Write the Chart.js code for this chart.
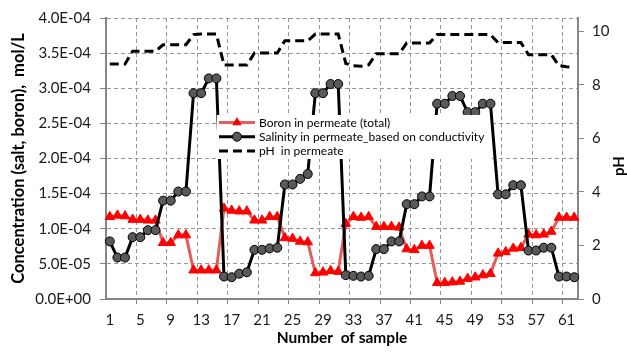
<!DOCTYPE html>
<html>
<head>
<meta charset="utf-8">
<script src="https://cdn.jsdelivr.net/npm/chart.js@4.4.1/dist/chart.umd.min.js"></script>
<style>
  html, body { margin: 0; padding: 0; background: #fff; }
  #wrap { width: 627px; height: 355px; position: relative; }
</style>
</head>
<body>
<div id="wrap"><canvas id="c"></canvas></div>
<script>
'use strict';

// ── data ──
const categories = [1, 2, 3, 4, 5, 6, 7, 8, 9, 10, 11, 12, 13, 14, 15, 16, 17, 18, 19, 20,
  21, 22, 23, 24, 25, 26, 27, 28, 29, 30, 31, 32, 33, 34, 35, 36, 37, 38, 39, 40,
  41, 42, 43, 44, 45, 46, 47, 48, 49, 50, 51, 52, 53, 54, 55, 56, 57, 58, 59, 60, 61, 62];

const xTickLabels = ['1', '5', '9', '13', '17', '21', '25', '29', '33', '37', '41', '45', '49', '53', '57', '61'];

// mol/L
const boron = [
  11.7e-5, 11.9e-5, 11.8e-5, 11.3e-5, 11.3e-5, 11.2e-5, 11.2e-5, 8.0e-5, 8.0e-5, 9.1e-5,
  9.1e-5, 4.1e-5, 4.1e-5, 4.1e-5, 4.1e-5, 12.9e-5, 12.6e-5, 12.5e-5, 12.5e-5, 11.2e-5,
  11.2e-5, 11.7e-5, 11.7e-5, 8.7e-5, 8.6e-5, 8.2e-5, 8.1e-5, 3.7e-5, 3.8e-5, 4.0e-5,
  3.9e-5, 10.7e-5, 11.7e-5, 11.6e-5, 11.7e-5, 10.3e-5, 10.3e-5, 10.3e-5, 10.2e-5, 7.1e-5,
  7.0e-5, 7.6e-5, 7.6e-5, 2.3e-5, 2.3e-5, 2.4e-5, 2.5e-5, 2.9e-5, 3.1e-5, 3.4e-5,
  3.6e-5, 6.5e-5, 6.7e-5, 7.2e-5, 7.3e-5, 9.2e-5, 9.1e-5, 9.2e-5, 9.6e-5, 11.6e-5,
  11.6e-5, 11.6e-5
];

const salinity = [
  8.2e-5, 5.9e-5, 5.9e-5, 8.8e-5, 8.8e-5, 9.8e-5, 9.8e-5, 14.0e-5, 14.0e-5, 15.3e-5,
  15.3e-5, 29.3e-5, 29.3e-5, 31.4e-5, 31.4e-5, 3.2e-5, 3.1e-5, 3.6e-5, 3.8e-5, 7.0e-5,
  7.0e-5, 7.2e-5, 7.3e-5, 16.3e-5, 16.3e-5, 17.1e-5, 17.8e-5, 29.3e-5, 29.3e-5, 30.6e-5,
  30.6e-5, 3.4e-5, 3.3e-5, 3.2e-5, 3.3e-5, 7.1e-5, 7.1e-5, 8.2e-5, 8.2e-5, 13.5e-5,
  13.5e-5, 14.6e-5, 14.6e-5, 27.8e-5, 27.8e-5, 28.9e-5, 28.9e-5, 26.6e-5, 26.6e-5, 27.8e-5,
  27.8e-5, 14.9e-5, 14.9e-5, 16.2e-5, 16.2e-5, 6.9e-5, 6.9e-5, 7.3e-5, 7.3e-5, 3.2e-5,
  3.2e-5, 3.1e-5
];

const ph = [
  8.78, 8.78, 8.78, 9.26, 9.26, 9.26, 9.26, 9.5, 9.5, 9.5,
  9.5, 9.88, 9.9, 9.9, 9.9, 8.74, 8.74, 8.74, 8.74, 9.19,
  9.19, 9.19, 9.19, 9.65, 9.65, 9.65, 9.65, 9.9, 9.9, 9.9,
  9.9, 8.8, 8.72, 8.7, 8.75, 9.16, 9.16, 9.16, 9.16, 9.57,
  9.57, 9.57, 9.57, 9.88, 9.88, 9.88, 9.88, 9.88, 9.88, 9.88,
  9.88, 9.58, 9.58, 9.58, 9.58, 9.13, 9.13, 9.13, 9.13, 8.72,
  8.68, 8.65
];

const seriesNames = [
  'Boron in permeate (total)',
  'Salinity in permeate_based on conductivity',
  'pH  in permeate'
];

// ── colours ──
const TXT = '#1a1a1a';
const AXIS = '#868686';
const GRID = '#969696';
const RED = '#ff0000';
const RED_LINE = '#e35d5d';
const DOT = '#595959';

const FONT = 'Lato, "Liberation Sans", sans-serif';
Chart.defaults.font.family = FONT;

// 4.0E-04 style
function sci(v) {
  if (v === 0) return '0.0E+00';
  const e = Math.floor(Math.log10(Math.abs(v)) + 1e-9);
  const m = v / Math.pow(10, e);
  return m.toFixed(1) + 'E' + (e < 0 ? '-' : '+') + String(Math.abs(e)).padStart(2, '0');
}

function xGridColor(c) {
  return (c.index !== undefined && c.index > 0 && c.index % 4 === 0) ? GRID : 'rgba(0,0,0,0)';
}
function xTickColor(c) {
  return (c.index !== undefined && c.index > 0 && c.index % 4 === 0) ? AXIS : 'rgba(0,0,0,0)';
}

// ── legend inside plot + pH title (Excel style) ──
const overlayPlugin = {
  id: 'overlay',
  afterDraw(chart) {
    const ctx = chart.ctx;
    const ds = chart.data.datasets;
    ctx.save();

    const bx = 217, by = 115, bw = 272, bh = 44;
    ctx.fillStyle = '#fff';
    ctx.fillRect(bx, by, bw, bh);

    const rows = [122.5, 136.7, 151];
    const lx0 = 219, lx1 = 255, mx = (lx0 + lx1) / 2;
    ctx.font = '12px ' + FONT;
    ctx.textBaseline = 'middle';
    ctx.textAlign = 'left';

    rows.forEach(function (ry, i) {
      const d = ds[i];
      ctx.beginPath();
      ctx.setLineDash(d.borderDash || []);
      ctx.strokeStyle = d.borderColor;
      ctx.lineWidth = d.borderWidth;
      ctx.moveTo(lx0, ry);
      ctx.lineTo(lx1, ry);
      ctx.stroke();
      ctx.setLineDash([]);

      if (d.pointStyle === 'triangle') {
        const r = d.pointRadius;
        ctx.beginPath();
        ctx.moveTo(mx, ry - r);
        ctx.lineTo(mx + r * 0.866, ry + r / 2);
        ctx.lineTo(mx - r * 0.866, ry + r / 2);
        ctx.closePath();
        ctx.fillStyle = d.pointBackgroundColor;
        ctx.fill();
      } else if (d.pointRadius > 0) {
        ctx.beginPath();
        ctx.arc(mx, ry, d.pointRadius, 0, Math.PI * 2);
        ctx.fillStyle = d.pointBackgroundColor;
        ctx.fill();
        ctx.lineWidth = d.pointBorderWidth;
        ctx.strokeStyle = d.pointBorderColor;
        ctx.stroke();
      }

      ctx.fillStyle = '#000';
      ctx.fillText(d.label, 259, ry + 0.5);
    });

    // secondary axis title, rotated like the left one
    ctx.translate(619, 166);
    ctx.rotate(-Math.PI / 2);
    ctx.textAlign = 'center';
    ctx.font = 'bold 15px ' + FONT;
    ctx.fillStyle = '#000';
    ctx.fillText('pH', 0, 0);
    ctx.restore();
  }
};

new Chart(document.getElementById('c'), {
  type: 'line',
  data: {
    labels: categories,
    datasets: [
      {
        label: seriesNames[0],
        data: boron,
        yAxisID: 'y',
        borderColor: RED_LINE,
        borderWidth: 3,
        pointStyle: 'triangle',
        pointRadius: 5.5,
        pointBackgroundColor: RED,
        pointBorderColor: RED,
        pointBorderWidth: 1,
        tension: 0,
        order: 3
      },
      {
        label: seriesNames[1],
        data: salinity,
        yAxisID: 'y',
        borderColor: '#000',
        borderWidth: 3,
        pointStyle: 'circle',
        pointRadius: 4.5,
        pointBackgroundColor: DOT,
        pointBorderColor: '#000',
        pointBorderWidth: 1,
        tension: 0,
        order: 2
      },
      {
        label: seriesNames[2],
        data: ph,
        yAxisID: 'y1',
        borderColor: '#000',
        borderWidth: 3,
        borderDash: [9, 5],
        pointRadius: 0,
        tension: 0,
        order: 1
      }
    ]
  },
  options: {
    responsive: true,
    maintainAspectRatio: false,
    animation: false,
    layout: { padding: { top: 16, right: 0, bottom: 0, left: 0 } },
    plugins: {
      legend: { display: false },
      tooltip: { enabled: false }
    },
    scales: {
      x: {
        type: 'category',
        offset: true,
        ticks: {
          autoSkip: false,
          maxRotation: 0,
          minRotation: 0,
          color: TXT,
          font: { size: 15 },
          padding: 7,
          callback: function (v, i) {
            const lab = String(categories[i]);
            return xTickLabels.includes(lab) ? lab : '';
          }
        },
        grid: { offset: true, color: xGridColor, tickColor: xTickColor, tickLength: 5, lineWidth: 1 },
        border: { color: AXIS, width: 2, dash: [4, 3] },
        title: {
          display: true,
          text: 'Number  of sample',
          color: '#000',
          font: { size: 15.5, weight: 'bold' },
          padding: { top: 4, bottom: 8 }
        },
        afterFit: function (s) { s.height = 56; }
      },
      y: {
        position: 'left',
        min: 0,
        max: 4e-4,
        ticks: { stepSize: 5e-5, color: TXT, font: { size: 15 }, padding: 9, callback: function (v) { return sci(v); } },
        grid: { color: GRID, lineWidth: 1, tickLength: 6, tickColor: AXIS },
        border: { color: AXIS, width: 2, dash: [4, 3] },
        title: {
          display: true,
          text: 'Concentration (salt, boron),  mol/L',
          color: '#000',
          font: { size: 16.5, weight: 'bold' },
          padding: { top: 9, bottom: 0 }
        },
        afterFit: function (s) { s.width = 106; }
      },
      y1: {
        position: 'right',
        min: 0,
        max: 10.5,
        bounds: 'data',
        ticks: { stepSize: 2, includeBounds: false, color: TXT, font: { size: 15 }, padding: 8 },
        grid: { drawOnChartArea: false, tickLength: 6, tickColor: AXIS, color: AXIS },
        border: { color: AXIS, width: 2 },
        afterFit: function (s) { s.width = 49; }
      }
    }
  },
  plugins: [overlayPlugin]
});
</script>
</body>
</html>
